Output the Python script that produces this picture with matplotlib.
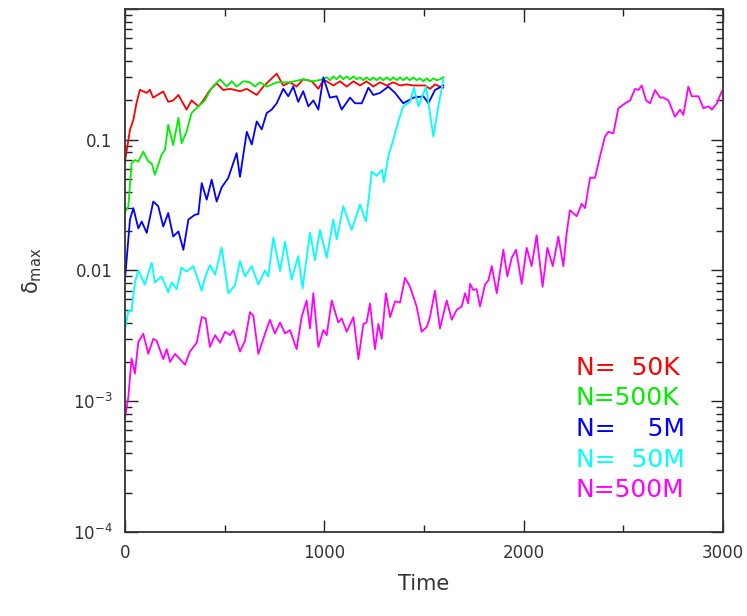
import matplotlib
matplotlib.use("Agg")
import matplotlib.pyplot as plt
from matplotlib.ticker import MultipleLocator, LogLocator, NullFormatter

# delta_max vs time for five particle numbers
t_50k = [0, 25, 42, 58, 75, 109, 125, 141, 192, 217, 242, 268, 309, 334, 368, 393,
         426, 460, 493, 527, 577, 611, 661, 694, 761, 794, 828, 861, 894, 937, 970,
         995, 1012, 1045, 1079, 1112, 1146, 1179, 1212, 1246, 1279, 1313, 1346, 1380,
         1413, 1447, 1480, 1505, 1530, 1555, 1580, 1597]
d_50k = [0.068, 0.119, 0.142, 0.191, 0.241, 0.228, 0.241, 0.21, 0.234, 0.195, 0.2,
         0.22, 0.17, 0.2, 0.18, 0.2, 0.24, 0.27, 0.24, 0.245, 0.235, 0.245, 0.22,
         0.255, 0.32, 0.26, 0.275, 0.255, 0.29, 0.28, 0.245, 0.286, 0.28, 0.26, 0.28,
         0.255, 0.28, 0.26, 0.28, 0.255, 0.275, 0.26, 0.275, 0.26, 0.265, 0.26, 0.26,
         0.26, 0.245, 0.265, 0.255, 0.25]

t_500k = [0, 17, 33, 50, 67, 92, 117, 134, 150, 184, 201, 217, 242, 268, 284, 309,
          334, 368, 401, 435, 477, 510, 535, 560, 594, 627, 652, 677, 711, 761, 828,
          894, 945, 995, 1012, 1028, 1045, 1062, 1079, 1095, 1112, 1129, 1146, 1162,
          1179, 1196, 1212, 1229, 1246, 1263, 1279, 1296, 1313, 1330, 1346, 1363,
          1380, 1396, 1413, 1430, 1447, 1463, 1480, 1497, 1514, 1530, 1547, 1564,
          1580, 1597]
d_500k = [0.028, 0.031, 0.066, 0.07, 0.068, 0.081, 0.068, 0.066, 0.054, 0.077, 0.084,
          0.13, 0.091, 0.147, 0.094, 0.115, 0.16, 0.18, 0.2, 0.25, 0.29, 0.255, 0.28,
          0.255, 0.28, 0.275, 0.255, 0.275, 0.255, 0.275, 0.275, 0.29, 0.28, 0.29,
          0.30, 0.285, 0.305, 0.29, 0.31, 0.29, 0.305, 0.29, 0.305, 0.29, 0.3, 0.285,
          0.3, 0.285, 0.3, 0.285, 0.3, 0.285, 0.3, 0.285, 0.3, 0.285, 0.3, 0.285,
          0.3, 0.285, 0.3, 0.285, 0.295, 0.28, 0.295, 0.28, 0.295, 0.285, 0.29, 0.30]

t_5m = [0, 25, 42, 67, 84, 109, 142, 167, 192, 217, 242, 268, 293, 318, 351, 368,
        385, 410, 435, 460, 485, 518, 560, 577, 611, 636, 661, 686, 711, 736, 761,
        794, 819, 844, 869, 894, 920, 945, 970, 995, 1028, 1062, 1087, 1129, 1154,
        1188, 1221, 1246, 1279, 1321, 1355, 1396, 1447, 1497, 1522, 1555, 1597]
d_5m = [0.0085, 0.0245, 0.03, 0.021, 0.0237, 0.0194, 0.0337, 0.031, 0.0217, 0.0275,
        0.0182, 0.0199, 0.0144, 0.0245, 0.0267, 0.027, 0.0466, 0.0348, 0.0495,
        0.0337, 0.0432, 0.051, 0.079, 0.052, 0.115, 0.092, 0.138, 0.12, 0.16, 0.17,
        0.19, 0.245, 0.215, 0.255, 0.195, 0.235, 0.18, 0.2, 0.17, 0.3, 0.21, 0.215,
        0.17, 0.21, 0.19, 0.19, 0.25, 0.22, 0.228, 0.255, 0.228, 0.19, 0.21, 0.215,
        0.19, 0.24, 0.26]

t_50m = [0, 17, 33, 50, 67, 100, 134, 150, 184, 217, 234, 259, 284, 309, 343, 385,
         401, 426, 452, 485, 518, 552, 577, 602, 636, 669, 702, 719, 744, 778, 803,
         836, 869, 891, 928, 953, 978, 1012, 1045, 1062, 1095, 1137, 1179, 1209,
         1238, 1263, 1288, 1299, 1321, 1346, 1371, 1396, 1430, 1450, 1472, 1510,
         1547, 1572, 1597]
d_50m = [0.0035, 0.0049, 0.0049, 0.0081, 0.01, 0.0078, 0.0115, 0.0081, 0.009,
         0.0068, 0.0081, 0.0072, 0.0105, 0.0098, 0.0108, 0.007, 0.0088, 0.011,
         0.0093, 0.015, 0.0067, 0.0077, 0.0118, 0.009, 0.0108, 0.0078, 0.01, 0.009,
         0.0178, 0.0099, 0.0166, 0.0085, 0.0129, 0.0073, 0.0195, 0.012, 0.0204,
         0.0125, 0.0245, 0.0173, 0.031, 0.0204, 0.032, 0.0237, 0.057, 0.053, 0.059,
         0.0474, 0.0746, 0.1, 0.138, 0.18, 0.195, 0.25, 0.18, 0.255, 0.106, 0.18,
         0.29]

t_500m = [0, 17, 33, 50, 67, 92, 117, 142, 159, 192, 209, 226, 251, 276, 301, 326,
          360, 385, 405, 426, 452, 477, 502, 527, 544, 577, 602, 627, 644, 669, 694,
          727, 752, 778, 803, 828, 861, 886, 911, 928, 945, 970, 995, 1012, 1037,
          1070, 1087, 1112, 1146, 1171, 1196, 1212, 1229, 1254, 1271, 1288, 1309,
          1330, 1355, 1380, 1405, 1430, 1463, 1488, 1514, 1530, 1555, 1580, 1614,
          1639, 1664, 1689, 1706, 1722, 1731, 1747, 1764, 1781, 1806, 1823, 1840,
          1865, 1898, 1918, 1940, 1962, 1990, 2015, 2040, 2065, 2095, 2119, 2146,
          2174, 2199, 2216, 2232, 2266, 2291, 2308, 2333, 2358, 2383, 2408, 2425,
          2450, 2475, 2509, 2534, 2559, 2576, 2592, 2614, 2634, 2659, 2684, 2701,
          2726, 2759, 2784, 2801, 2826, 2843, 2877, 2902, 2927, 2944, 2969, 2994]
d_500m = [0.00074, 0.00108, 0.00212, 0.00163, 0.00284, 0.00328, 0.00231, 0.003,
          0.0029, 0.0021, 0.0025, 0.002, 0.0023, 0.0021, 0.0019, 0.0024, 0.0028,
          0.0044, 0.0043, 0.0026, 0.0032, 0.0028, 0.0034, 0.0032, 0.0035, 0.0024,
          0.0029, 0.0048, 0.0045, 0.0023, 0.003, 0.0042, 0.0033, 0.004, 0.0033,
          0.0035, 0.0025, 0.0044, 0.0059, 0.0036, 0.0067, 0.0026, 0.0035, 0.0032,
          0.0059, 0.004, 0.0043, 0.0034, 0.0044, 0.0021, 0.0039, 0.004, 0.0056,
          0.0025, 0.0039, 0.003, 0.0067, 0.0044, 0.0058, 0.0057, 0.0088, 0.0075,
          0.0053, 0.0034, 0.0037, 0.0044, 0.007, 0.0036, 0.0059, 0.0042, 0.005,
          0.0053, 0.0067, 0.0056, 0.0079, 0.0071, 0.0072, 0.0053, 0.0078, 0.0084,
          0.0108, 0.0067, 0.0144, 0.009, 0.0125, 0.0144, 0.0079, 0.0149, 0.0108,
          0.0186, 0.0075, 0.0149, 0.0108, 0.0182, 0.0108, 0.0195, 0.0289, 0.026,
          0.0324, 0.03, 0.0512, 0.0512, 0.0746, 0.106, 0.115, 0.112, 0.174, 0.19,
          0.2, 0.245, 0.24, 0.26, 0.2, 0.19, 0.24, 0.21, 0.21, 0.2, 0.15, 0.17,
          0.155, 0.255, 0.215, 0.215, 0.174, 0.18, 0.17, 0.19, 0.235]

labels = ["N=  50K", "N=500K", "N=    5M", "N=  50M", "N=500M"]
colors = ["#ff0000", "#00ee00", "#0000ff", "#00ffff", "#ff00ff"]

plt.rcParams["mathtext.default"] = "regular"

fig = plt.figure(figsize=(7.47, 6.16), dpi=100)
ax = fig.add_axes([0.1673, 0.1364, 0.8006, 0.8490])

series = [(t_50k, d_50k), (t_500k, d_500k), (t_5m, d_5m), (t_50m, d_50m), (t_500m, d_500m)]
for (t, d), c in zip(series, colors):
    ax.plot(t, d, color=c, lw=1.3)

ax.set_yscale("log")
ax.set_xlim(0, 3000)
ax.set_ylim(1e-4, 1.0)

ax.xaxis.set_major_locator(MultipleLocator(1000))
ax.xaxis.set_minor_locator(MultipleLocator(500))
ax.set_yticks([1e-4, 1e-3, 1e-2, 1e-1, 1.0])
ax.set_yticklabels([r"$10^{-4}$", r"$10^{-3}$", "0.01", "0.1", ""])
ax.yaxis.set_minor_locator(LogLocator(base=10, subs=range(2, 10)))
ax.yaxis.set_minor_formatter(NullFormatter())

ax.tick_params(which="both", direction="in", top=True, right=True,
               labelsize=12, labelcolor="#333333", color="#222222")
ax.tick_params(which="major", length=9, width=1.0, pad=9)
ax.tick_params(which="minor", length=5, width=1.0)
for s in ax.spines.values():
    s.set_color("#333333")
    s.set_linewidth(1.3)

ax.set_xlabel("Time", fontsize=15, color="#333333", labelpad=8)
ax.set_ylabel(r"$\delta_{max}$", fontsize=15, color="#333333", labelpad=21)

# legend as coloured text lines in the lower right
for i, (lab, c) in enumerate(zip(labels, colors)):
    ax.text(0.754, 0.314 - i * 0.0585, lab, color=c, fontsize=18,
            transform=ax.transAxes, ha="left", va="center")

fig.savefig("out.png", dpi=100)
